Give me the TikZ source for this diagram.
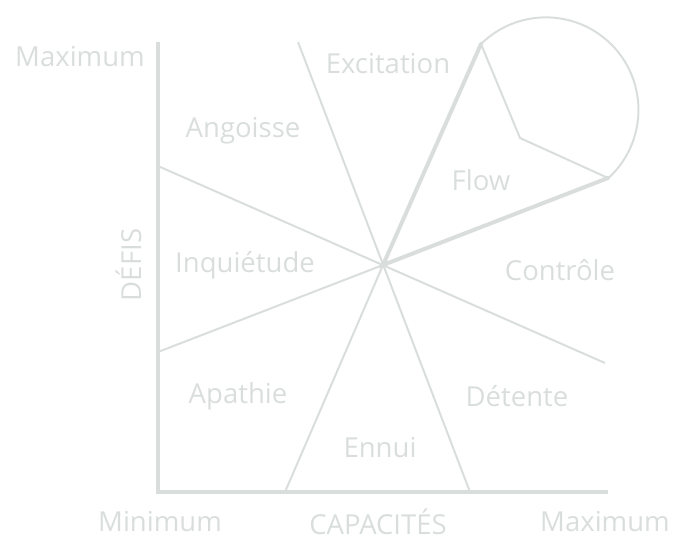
\documentclass[tikz,border=0pt]{standalone}
\usepackage{fontspec}
\setmainfont{Open Sans}
\definecolor{lg}{HTML}{D9DEDC}
\begin{document}
\begin{tikzpicture}[x=1pt,y=-1pt,
  thinln/.style={draw=lg,line width=2pt},
  thickln/.style={draw=lg,line width=4pt,line cap=round},
  axisln/.style={draw=lg,line width=4pt},
  lbl/.style={text=lg,font=\fontsize{27.5}{32}\selectfont,inner sep=0pt,anchor=center}]
\useasboundingbox (0,0) rectangle (692,550);
% coordinates
\coordinate (c) at (383,265);
\coordinate (ytop) at (158,42);
\coordinate (orig) at (158,492);
\coordinate (xend) at (608,492);
\coordinate (t1) at (298,42);
\coordinate (b1) at (470,492);
\coordinate (l1) at (158,166);
\coordinate (r1) at (605,363);
\coordinate (l2) at (158,352);
\coordinate (b2) at (285,492);
\coordinate (fa) at (481,44);
\coordinate (fb) at (608,178);
\coordinate (k) at (520,138);
% thin lines
\draw[thinln] (t1) -- (b1);
\draw[thinln] (l1) -- (r1);
\draw[thinln] (l2) -- (c);
\draw[thinln] (b2) -- (c);
\draw[thinln] (fa) -- (k) -- (fb);
\draw[thinln] (fa) arc[start angle=-134.6, end angle=47.6, radius=92.5];
% thick flow lines
\draw[thickln] (fa) -- (c) -- (fb);
% axes
\draw[axisln] (ytop) -- (orig) -- (xend);
% labels
\node[lbl] (ymax) at (80,57) {Maximum};
\node[lbl] (exc) at (388,64) {Excitation};
\node[lbl] (ang) at (243,131) {Angoisse};
\node[lbl] (flow) at (481,180) {Flow};
\node[lbl,rotate=90] (defis) at (129,265) {DÉFIS};
\node[lbl] (inq) at (245,265) {Inquiétude};
\node[lbl] (ctrl) at (560,270) {Contrôle};
\node[lbl] (apa) at (238,396) {Apathie};
\node[lbl] (det) at (517,396) {Détente};
\node[lbl] (enn) at (380,448) {Ennui};
\node[lbl] (xmin) at (160,522) {Minimum};
\node[lbl] (cap) at (378,522) {CAPACITÉS};
\node[lbl] (xmax) at (605,522) {Maximum};
\end{tikzpicture}
\end{document}
